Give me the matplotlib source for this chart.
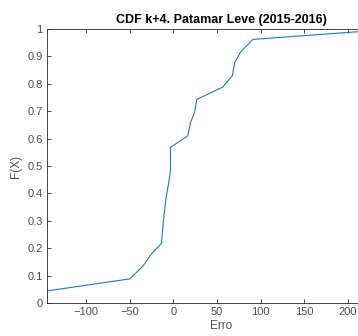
import numpy as np
import matplotlib.pyplot as plt

plt.rcParams['font.family'] = ['Liberation Sans', 'DejaVu Sans']

# empirical CDF of the k+4 forecast error (stairs smoothed as in the source)
erro = [-145, -145, -145, -50, -35, -25, -13.6, -13.4, -11.5, -8.6, -5.4, -3.4, -3.4,
        16.4, 19.5, 24.4, 26.7, 56.5, 67.5, 70.3, 77.2, 91, 254]
fx = [0.0, 0.0, 0.044, 0.088, 0.135, 0.18, 0.218, 0.233, 0.30, 0.382, 0.44, 0.482, 0.568,
      0.61, 0.658, 0.698, 0.743, 0.788, 0.83, 0.878, 0.917, 0.962, 1.0]

xticks = [-100, -50, 0, 50, 100, 150, 200]
yticks = np.round(np.arange(0, 1.01, 0.1), 1)
ytlabels = ['0'] + ['%.1f' % v for v in yticks[1:-1]] + ['1']

fig = plt.figure(figsize=(3.58, 3.36), dpi=100)
ax = fig.add_axes([47 / 358, 1 - 303 / 336, 348 / 358, 274 / 336])
ax.plot(erro, fx, color='#1f77c4', lw=0.8)

ax.set_xlim(-145, 254)
ax.set_ylim(0, 1)
ax.set_xticks(xticks)
ax.set_yticks(yticks)
ax.set_yticklabels(ytlabels)
ax.tick_params(direction='in', length=3, width=0.6, top=True, right=True,
               labelsize=8, colors='#262626', labelcolor='#4d4d4d', pad=3)
for s in ax.spines.values():
    s.set_color('#262626')
    s.set_linewidth(0.6)

ax.set_title('CDF k+4. Patamar Leve (2015-2016)', fontsize=9, fontweight='bold', color='black', pad=4)
ax.set_xlabel('Erro', fontsize=8.5, color='#4d4d4d', labelpad=2)
ax.set_ylabel('F(X)', fontsize=8.5, color='#4d4d4d', labelpad=4)

fig.savefig('out.png', dpi=100)
